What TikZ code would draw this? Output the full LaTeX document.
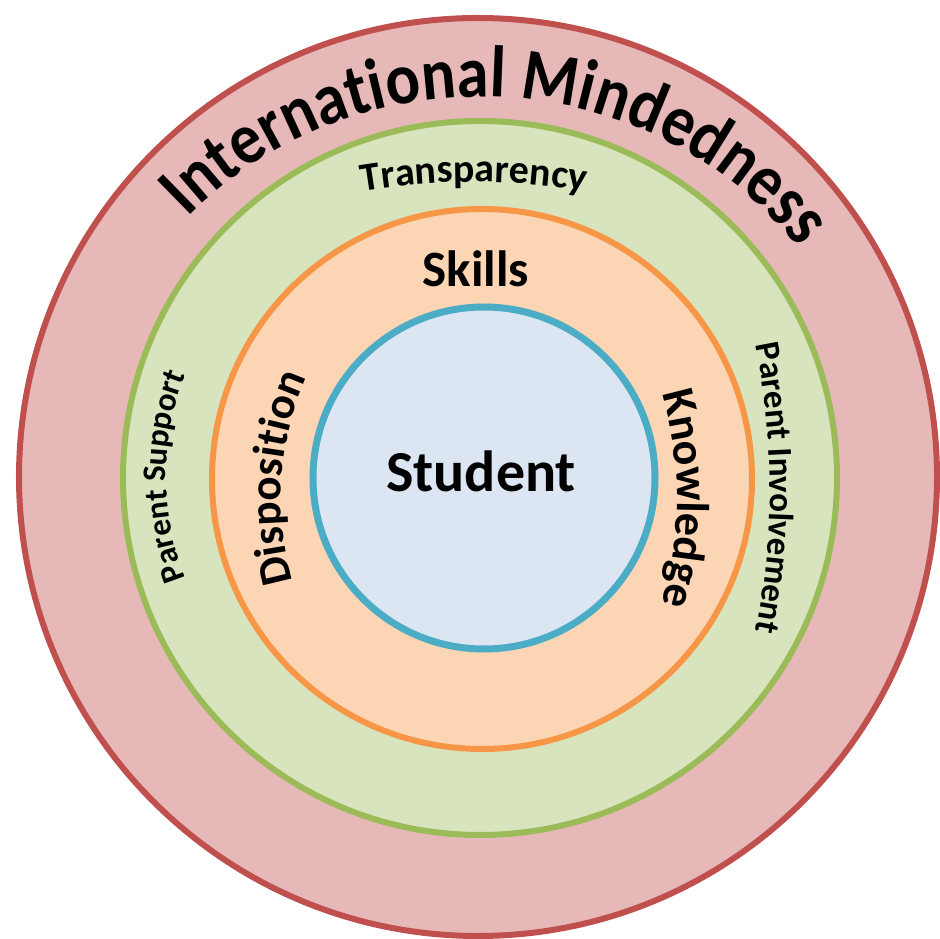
\documentclass[tikz,border=0pt]{standalone}
\usepackage{fontspec}
\setmainfont{Carlito}
\newfontfamily\cbold{Carlito Bold}
\newfontfamily\cboldn{Carlito Bold}[FakeStretch=0.88]
\usetikzlibrary{decorations.text}
\definecolor{redfill}{HTML}{E6B9B8}
\definecolor{redline}{HTML}{C0504D}
\definecolor{greenfill}{HTML}{D7E4BD}
\definecolor{greenline}{HTML}{9BBB59}
\definecolor{orangefill}{HTML}{FCD5B5}
\definecolor{orangeline}{HTML}{F79646}
\definecolor{bluefill}{HTML}{DCE6F2}
\definecolor{blueline}{HTML}{4BACC6}
\begin{document}
\begin{tikzpicture}[x=1pt,y=1pt,
  ring/.style={line width=6pt},
  arctext/.style={decorate, decoration={text along path, text align=center}},
  plain/.style={font=\cbold, text=black, inner sep=0pt, anchor=base}]
\useasboundingbox (-480,-461) rectangle (459,478);
% rings
\path[ring, draw=redline, fill=redfill] (-2,1) circle[radius=459pt];
\path[ring, draw=greenline, fill=greenfill] (0,0) circle[radius=357pt];
\path[ring, draw=orangeline, fill=orangefill] (2,-1) circle[radius=270pt];
\path[ring, line width=7pt, draw=blueline, fill=bluefill] (4,0) circle[radius=171pt];
% curved labels
\path[arctext, decoration={text={|\cboldn\fontsize{73pt}{73pt}\selectfont|International Mindedness}}]
  (147:400pt and 381pt) arc[start angle=147, end angle=27, x radius=400pt, y radius=381pt];
\path[shift={(-6,-379)}, arctext, decoration={text={|\cbold\fontsize{40pt}{40pt}\selectfont|Transparency}}]
  (105:675pt) arc[start angle=105, end angle=75, radius=675pt];
\path[shift={(-40,1.5)}, arctext, decoration={text={|\cbold\fontsize{33pt}{33pt}\selectfont|Parent Support}}]
  (215:274pt) arc[start angle=215, end angle=145, radius=274pt];
\path[shift={(100,-21)}, arctext, decoration={text={|\cbold\fontsize{45pt}{45pt}\selectfont|Disposition}}]
  (206:299pt) arc[start angle=206, end angle=146, radius=299pt];
\path[shift={(-179,-21)}, arctext, decoration={text={|\cbold\fontsize{46pt}{46pt}\selectfont|Knowledge}}]
  (30:376pt) arc[start angle=30, end angle=-30, radius=376pt];
\path[shift={(-430,-10)}, arctext, decoration={text={|\cbold\fontsize{35pt}{35pt}\selectfont|Parent Involvement}}]
  (15:720pt) arc[start angle=15, end angle=-15, radius=720pt];
% straight labels
\node[plain, font=\cbold\fontsize{51pt}{51pt}\selectfont] (skills) at (-4,191) {Skills};
\node[plain, font=\cbold\fontsize{58pt}{58pt}\selectfont] (student) at (1,-14) {Student};
\end{tikzpicture}
\end{document}
